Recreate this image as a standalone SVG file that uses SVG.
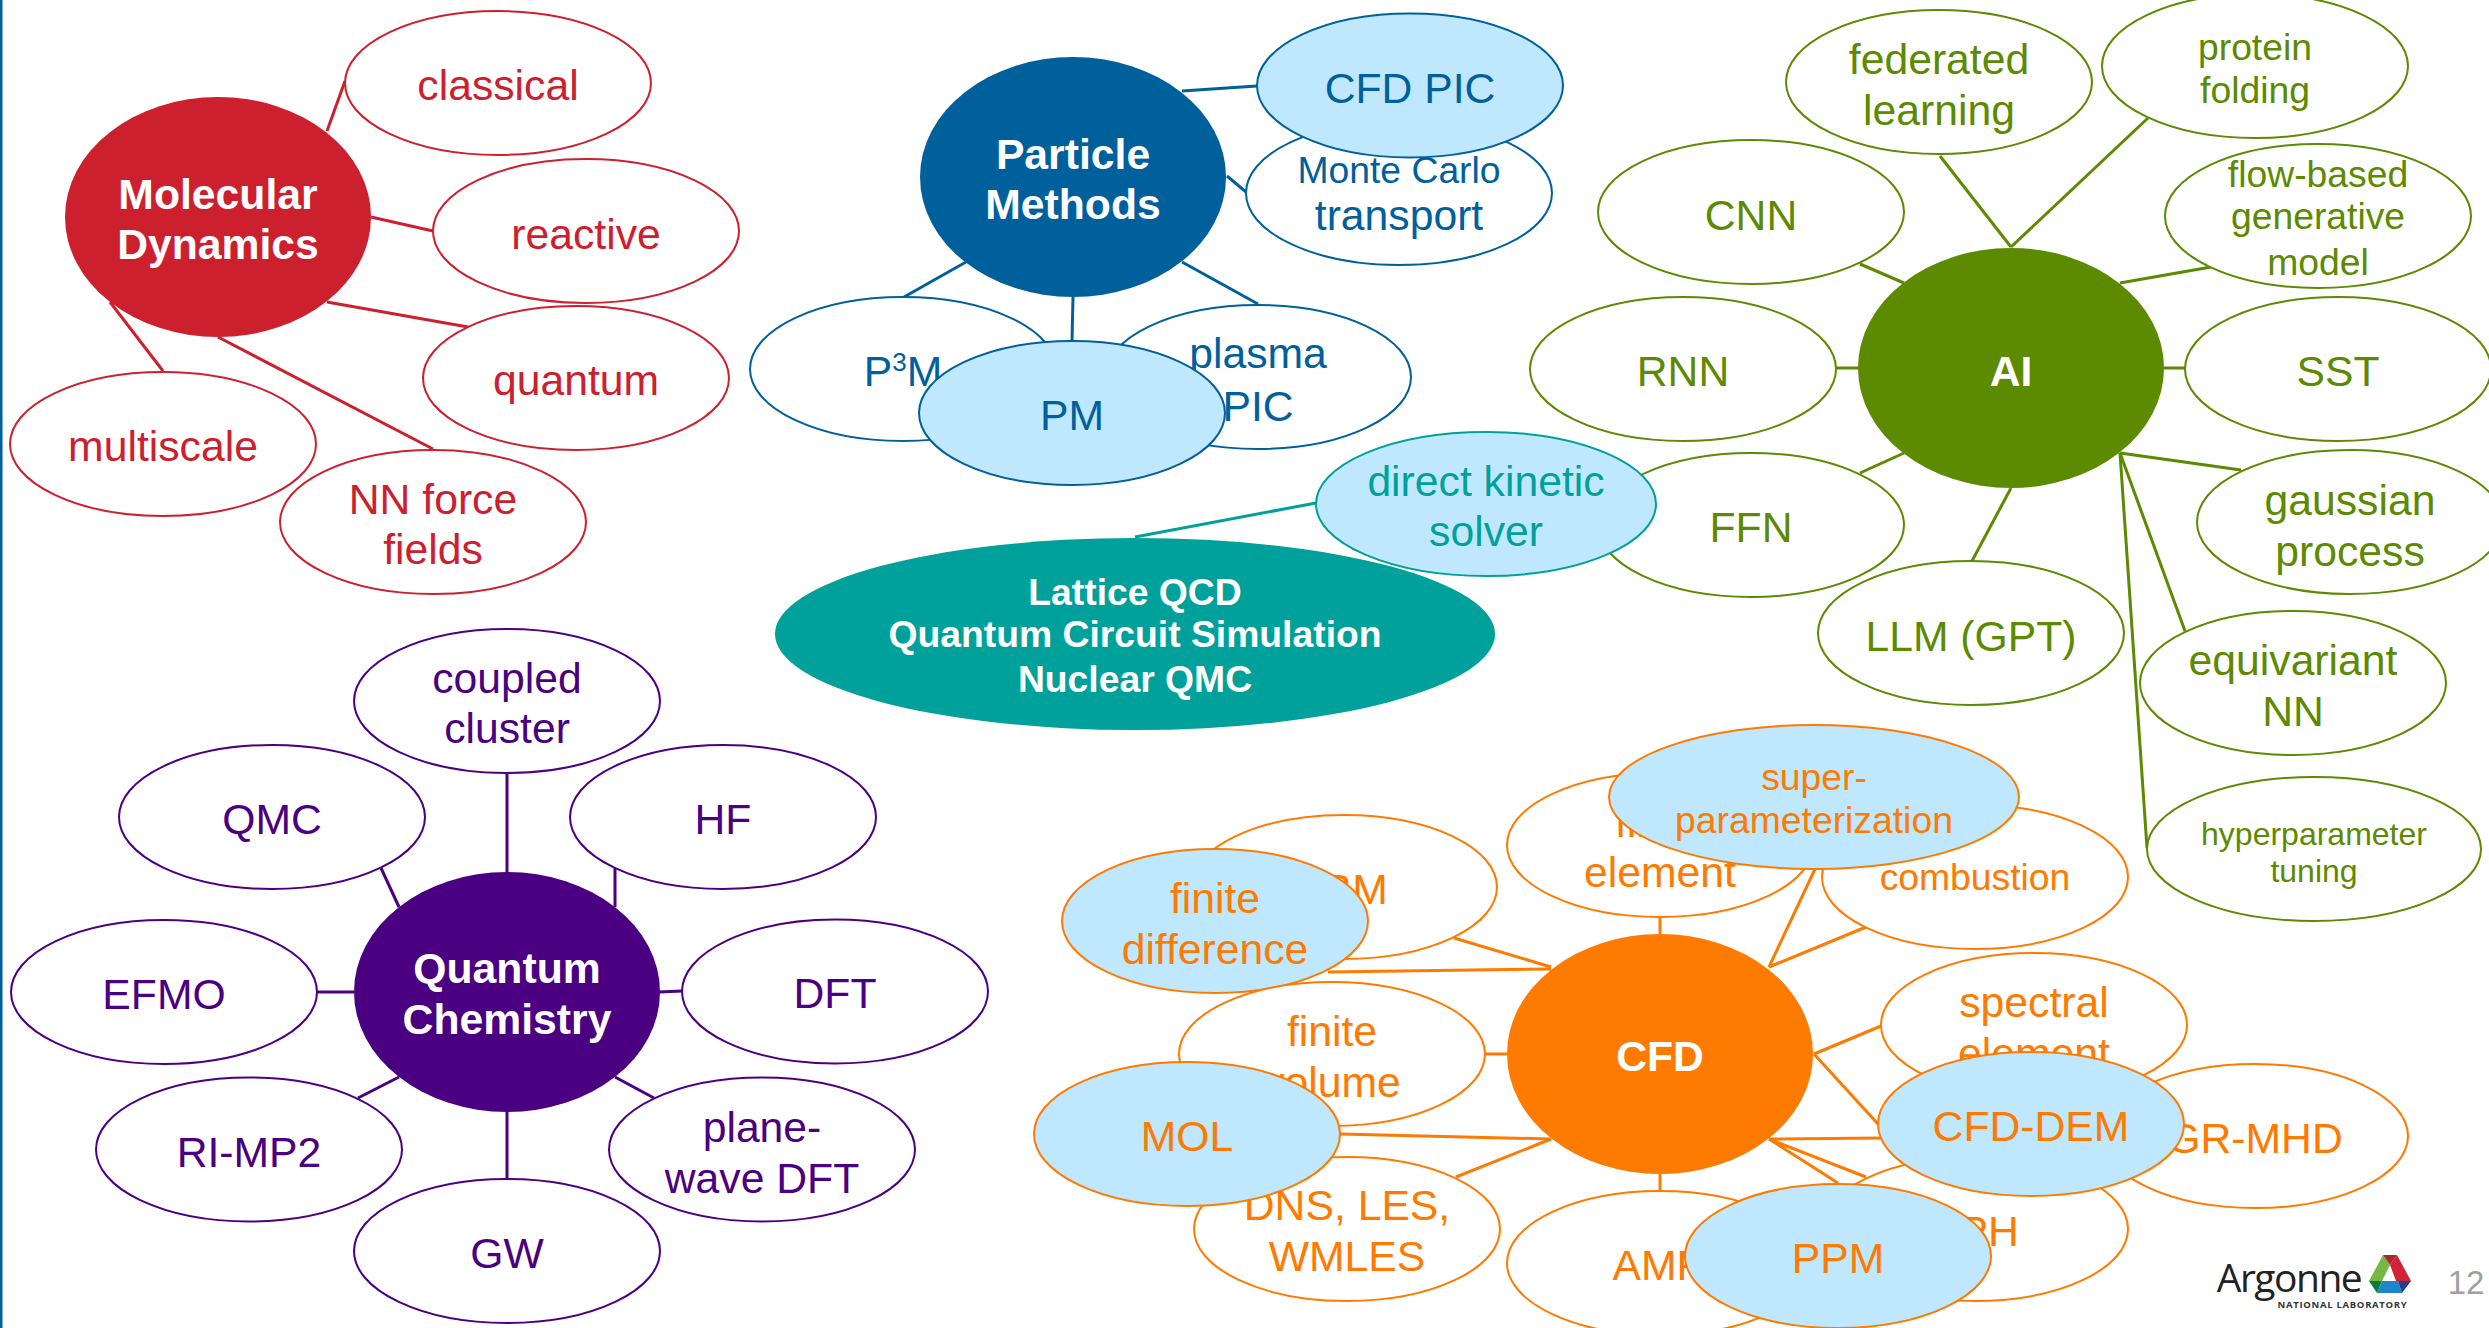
<svg xmlns="http://www.w3.org/2000/svg" width="2489" height="1328" viewBox="0 0 2489 1328">
<style>
text{font-family:"Liberation Sans",Arial,sans-serif;font-size:42.700px;text-anchor:middle;transform:translateY(1px)}
.hub{font-weight:bold;fill:#fff}
.s37{font-size:37.300px}.s32{font-size:32px}
ellipse{stroke-width:2}
.h{stroke:none!important}
.w{fill:#fff}.f{fill:#bfe8ff}
.md ellipse{stroke:#cd202f}.md text{fill:#cd202f}.md line{stroke:#cd202f}
.pm ellipse{stroke:#00609c}.pm text{fill:#00609c}.pm line{stroke:#00609c}
.ai ellipse{stroke:#5c8a00}.ai text{fill:#5c8a00}.ai line{stroke:#5c8a00}
.qc ellipse{stroke:#4b0082}.qc text{fill:#4b0082}.qc line{stroke:#4b0082}
.cf ellipse{stroke:#ff7a00}.cf text{fill:#ff7a00}.cf line{stroke:#ff7a00}
.lq ellipse{stroke:#00a19a}.lq text{fill:#00a19a}.lq line{stroke:#00a19a}
line{stroke-width:3}
.md text.hub,.pm text.hub,.ai text.hub,.qc text.hub,.cf text.hub,.lq text.hub{fill:#fff}
</style>
<rect width="2489" height="1328" fill="#fff"/>
<rect x="0" y="0" width="2.5" height="1328" fill="#00609c"/>
<g id="connectors">
<g class="md">
<line x1="345" y1="81" x2="327" y2="131"/><line x1="371" y1="217" x2="433" y2="231"/><line x1="327" y1="302" x2="468" y2="327"/><line x1="110" y1="302" x2="163" y2="371"/><line x1="218" y1="337" x2="433" y2="449"/>
</g>
<g class="pm">
<line x1="1182" y1="91" x2="1257" y2="86"/><line x1="1227" y1="176" x2="1246" y2="192"/><line x1="966" y1="262" x2="904" y2="297"/><line x1="1073" y1="297" x2="1072" y2="341"/><line x1="1182" y1="262" x2="1258" y2="304"/>
</g>
<g class="lq"><line x1="1135" y1="537" x2="1316" y2="503"/></g>
<g class="ai">
<line x1="1940" y1="156" x2="2011" y2="247"/><line x1="2148" y1="118" x2="2011" y2="247"/><line x1="2211" y1="267" x2="2120" y2="283"/><line x1="1860" y1="264" x2="1904" y2="283"/><line x1="1836" y1="368" x2="1858" y2="368"/><line x1="2164" y1="368" x2="2185" y2="368"/><line x1="1904" y1="453" x2="1860" y2="473"/><line x1="2011" y1="488" x2="1972" y2="561"/><line x1="2120" y1="453" x2="2241" y2="470"/><line x1="2120" y1="453" x2="2185" y2="631"/><line x1="2120" y1="453" x2="2147" y2="848"/>
</g>
<g class="qc">
<line x1="507" y1="774" x2="507" y2="872"/><line x1="381" y1="868" x2="399" y2="907"/><line x1="615" y1="868" x2="615" y2="907"/><line x1="317" y1="992" x2="354" y2="992"/><line x1="659" y1="992" x2="682" y2="991"/><line x1="399" y1="1077" x2="358" y2="1098"/><line x1="615" y1="1077" x2="654" y2="1098"/><line x1="507" y1="1112" x2="507" y2="1179"/>
</g>
<g class="cf">
<line x1="1660" y1="917" x2="1660" y2="934"/><line x1="1815" y1="869" x2="1769" y2="967"/><line x1="1866" y1="927" x2="1769" y2="967"/><line x1="1454" y1="938" x2="1551" y2="967"/><line x1="1328" y1="972" x2="1551" y2="969"/><line x1="1485" y1="1054" x2="1507" y2="1054"/><line x1="1340" y1="1134" x2="1551" y2="1139"/><line x1="1456" y1="1177" x2="1551" y2="1139"/><line x1="1660" y1="1174" x2="1660" y2="1191"/><line x1="1814" y1="1054" x2="1881" y2="1026"/><line x1="1814" y1="1054" x2="1878" y2="1124"/><line x1="1769" y1="1139" x2="1881" y2="1138"/><line x1="1769" y1="1139" x2="1866" y2="1177"/><line x1="1769" y1="1139" x2="1838" y2="1183"/>
</g>
</g>

<g class="md">
<g id="md-hub"><ellipse class="h" cx="218" cy="217" rx="153" ry="120" fill="#cd202f"/><text class="hub" x="218" y="207.500">Molecular</text><text class="hub" x="218" y="258">Dynamics</text></g>
<g id="md-classical"><ellipse class="w" cx="498" cy="83" rx="153" ry="72"/><text x="498" y="99">classical</text></g>
<g id="md-reactive"><ellipse class="w" cx="586" cy="231" rx="153" ry="72"/><text x="586" y="248">reactive</text></g>
<g id="md-quantum"><ellipse class="w" cx="576" cy="378" rx="153" ry="72"/><text x="576" y="394">quantum</text></g>
<g id="md-multiscale"><ellipse class="w" cx="163" cy="444" rx="153" ry="72"/><text x="163" y="460">multiscale</text></g>
<g id="md-nn"><ellipse class="w" cx="433" cy="522" rx="153" ry="72"/><text x="433" y="513">NN force</text><text x="433" y="563">fields</text></g>
</g>

<g class="pm">
<g id="pm-hub"><ellipse class="h" cx="1073" cy="177" rx="153" ry="120" fill="#00609c"/><text class="hub" x="1073" y="167.500">Particle</text><text class="hub" x="1073" y="218">Methods</text></g>
<g id="pm-mc"><ellipse class="w" cx="1399" cy="193" rx="153" ry="72"/><text class="s37" x="1399" y="182">Monte Carlo</text><text x="1399" y="229">transport</text></g>
<g id="pm-cfdpic"><ellipse class="f" cx="1410" cy="85.500" rx="153" ry="72"/><text x="1410" y="102">CFD PIC</text></g>
<g id="pm-p3m"><ellipse class="w" cx="903" cy="369" rx="153" ry="72"/><text x="903" y="385">P<tspan font-size="26" dy="-15">3</tspan><tspan dy="15">M</tspan></text></g>
<g id="pm-plasma"><ellipse class="w" cx="1258" cy="377" rx="153" ry="72"/><text x="1258" y="367">plasma</text><text x="1258" y="420">PIC</text></g>
<g id="pm-pm"><ellipse class="f" cx="1072" cy="413" rx="153" ry="72"/><text x="1072" y="429">PM</text></g>
</g>

<g class="ai">
<g id="ai-hub"><ellipse class="h" cx="2011" cy="368" rx="153" ry="120" fill="#5c8a00"/><text class="hub" x="2011" y="385">AI</text></g>
<g id="ai-fed"><ellipse class="w" cx="1939" cy="82" rx="153" ry="72"/><text x="1939" y="73">federated</text><text x="1939" y="124">learning</text></g>
<g id="ai-protein"><ellipse class="w" cx="2255" cy="66" rx="153" ry="72"/><text class="s37" x="2255" y="59">protein</text><text class="s37" x="2255" y="102">folding</text></g>
<g id="ai-cnn"><ellipse class="w" cx="1751" cy="212" rx="153" ry="72"/><text x="1751" y="229">CNN</text></g>
<g id="ai-flow"><ellipse class="w" cx="2318" cy="216" rx="153" ry="72"/><text class="s37" x="2318" y="186">flow-based</text><text class="s37" x="2318" y="228">generative</text><text class="s37" x="2318" y="274">model</text></g>
<g id="ai-rnn"><ellipse class="w" cx="1683" cy="369" rx="153" ry="72"/><text x="1683" y="385">RNN</text></g>
<g id="ai-sst"><ellipse class="w" cx="2338" cy="369" rx="153" ry="72"/><text x="2338" y="385">SST</text></g>
<g id="ai-ffn"><ellipse class="w" cx="1751" cy="525" rx="153" ry="72"/><text x="1751" y="541">FFN</text></g>
<g id="ai-gauss"><ellipse class="w" cx="2350" cy="522" rx="153" ry="72"/><text x="2350" y="514">gaussian</text><text x="2350" y="565">process</text></g>
<g id="ai-llm"><ellipse class="w" cx="1971" cy="633" rx="153" ry="72"/><text x="1971" y="650">LLM (GPT)</text></g>
<g id="ai-equi"><ellipse class="w" cx="2293" cy="683" rx="153" ry="72"/><text x="2293" y="674">equivariant</text><text x="2293" y="725">NN</text></g>
<g id="ai-hyper"><ellipse class="w" cx="2314" cy="849" rx="167" ry="72"/><text class="s32" x="2314" y="844">hyperparameter</text><text class="s32" x="2314" y="881">tuning</text></g>
</g>

<g class="lq">
<g id="lq-hub"><ellipse class="h" cx="1135" cy="634" rx="360" ry="96" fill="#00a19a"/><text class="hub s37" x="1135" y="604">Lattice QCD</text><text class="hub s37" x="1135" y="646">Quantum Circuit Simulation</text><text class="hub s37" x="1135" y="691">Nuclear QMC</text></g>
<g id="lq-dk"><ellipse class="f" cx="1486" cy="504" rx="170" ry="72"/><text x="1486" y="495">direct kinetic</text><text x="1486" y="545">solver</text></g>
</g>

<g class="qc">
<g id="qc-hub"><ellipse class="h" cx="507" cy="992" rx="153" ry="120" fill="#4b0082"/><text class="hub" x="507" y="982">Quantum</text><text class="hub" x="507" y="1033">Chemistry</text></g>
<g id="qc-cc"><ellipse class="w" cx="507" cy="701" rx="153" ry="72"/><text x="507" y="692">coupled</text><text x="507" y="742">cluster</text></g>
<g id="qc-qmc"><ellipse class="w" cx="272" cy="817" rx="153" ry="72"/><text x="272" y="833">QMC</text></g>
<g id="qc-hf"><ellipse class="w" cx="723" cy="817" rx="153" ry="72"/><text x="723" y="833">HF</text></g>
<g id="qc-efmo"><ellipse class="w" cx="164" cy="992" rx="153" ry="72"/><text x="164" y="1008">EFMO</text></g>
<g id="qc-dft"><ellipse class="w" cx="835" cy="991.500" rx="153" ry="72"/><text x="835" y="1007">DFT</text></g>
<g id="qc-ri"><ellipse class="w" cx="249" cy="1149.500" rx="153" ry="72"/><text x="249" y="1166">RI-MP2</text></g>
<g id="qc-pw"><ellipse class="w" cx="762" cy="1149.500" rx="153" ry="72"/><text x="762" y="1141">plane-</text><text x="762" y="1192">wave DFT</text></g>
<g id="qc-gw"><ellipse class="w" cx="507" cy="1251" rx="153" ry="72"/><text x="507" y="1267">GW</text></g>
</g>

<g class="cf">
<g id="cf-hub"><ellipse class="h" cx="1660" cy="1054" rx="153" ry="120" fill="#ff7a00"/><text class="hub" x="1660" y="1070">CFD</text></g>
<g id="cf-fe"><ellipse class="w" cx="1660" cy="845" rx="153" ry="72"/><text x="1660" y="836">finite</text><text x="1660" y="886">element</text></g>
<g id="cf-comb"><ellipse class="w" cx="1975" cy="877" rx="153" ry="72"/><text class="s37" x="1975" y="889">combustion</text></g>
<g id="cf-super"><ellipse class="f" cx="1814" cy="797" rx="205" ry="72"/><text class="s37" x="1814" y="789">super-</text><text class="s37" x="1814" y="832">parameterization</text></g>
<g id="cf-lbm"><ellipse class="w" cx="1344" cy="887" rx="153" ry="72"/><text x="1344" y="903">LBM</text></g>
<g id="cf-fd"><ellipse class="f" cx="1215" cy="921" rx="153" ry="72"/><text x="1215" y="912">finite</text><text x="1215" y="963">difference</text></g>
<g id="cf-fv"><ellipse class="w" cx="1332" cy="1054" rx="153" ry="72"/><text x="1332" y="1045">finite</text><text x="1332" y="1096">volume</text></g>
<g id="cf-dns"><ellipse class="w" cx="1347" cy="1229" rx="153" ry="72"/><text x="1347" y="1219">DNS, LES,</text><text x="1347" y="1270">WMLES</text></g>
<g id="cf-mol"><ellipse class="f" cx="1187" cy="1134" rx="153" ry="72"/><text x="1187" y="1150">MOL</text></g>
<g id="cf-amr"><ellipse class="w" cx="1660" cy="1263" rx="153" ry="72"/><text x="1660" y="1279">AMR</text></g>
<g id="cf-sph"><ellipse class="w" cx="1975" cy="1229" rx="153" ry="72"/><text x="1975" y="1245">SPH</text></g>
<g id="cf-ppm"><ellipse class="f" cx="1838" cy="1256" rx="153" ry="72"/><text x="1838" y="1272">PPM</text></g>
<g id="cf-spec"><ellipse class="w" cx="2034" cy="1025" rx="153" ry="72"/><text x="2034" y="1016">spectral</text><text x="2034" y="1067">element</text></g>
<g id="cf-gr"><ellipse class="w" cx="2255" cy="1136" rx="153" ry="72"/><text x="2255" y="1152">GR-MHD</text></g>
<g id="cf-dem"><ellipse class="f" cx="2031" cy="1124" rx="153" ry="72"/><text x="2031" y="1140">CFD-DEM</text></g>
</g>

<g id="logo">
<text x="2289" y="1291" style="font-family:'Open Sans','Liberation Sans',sans-serif;font-size:39px;letter-spacing:-1.500px" fill="#222">Argonne</text>
<text x="2342.500" y="1307" style="font-family:'Open Sans','Liberation Sans',sans-serif;font-size:9.500px;font-weight:bold;letter-spacing:.7px" fill="#333">NATIONAL LABORATORY</text>
<polygon points="2383,1255 2390,1265 2382,1281 2369,1281" fill="#76b843"/>
<polygon points="2383,1255 2397,1255 2390,1265" fill="#a52a2f"/>
<polygon points="2397,1255 2411,1281 2396,1281 2390,1265" fill="#d12335"/>
<polygon points="2369,1281 2382,1281 2377,1293" fill="#0a7d3e"/>
<polygon points="2382,1281 2398,1281 2402,1293 2377,1293" fill="#1d86c8"/>
<polygon points="2398,1281 2411,1281 2402,1293" fill="#2b3990"/>
<text x="2466" y="1293" style="font-size:33px" fill="#a0a0a0">12</text>
</g>
</svg>
